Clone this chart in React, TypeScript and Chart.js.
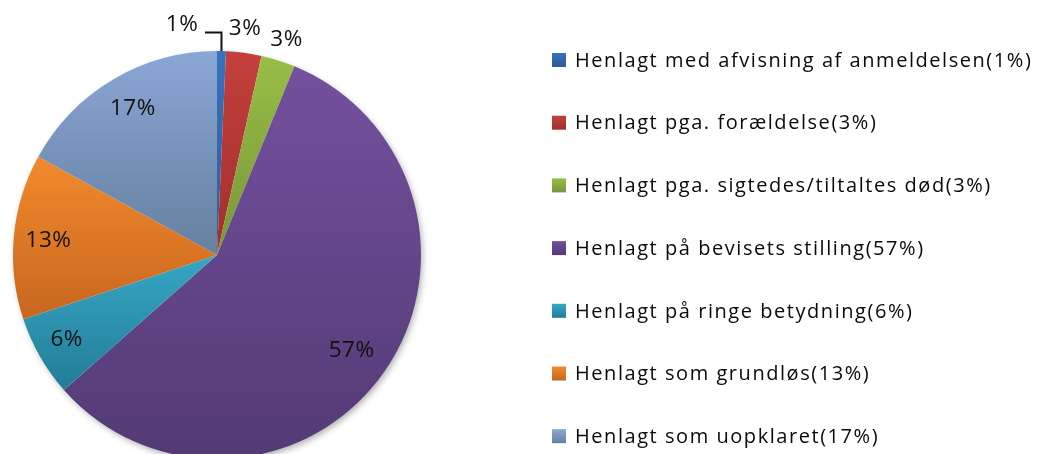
import React, { useEffect, useRef } from "react";
import { Chart, registerables } from "chart.js";

Chart.register(...registerables);

const categories = [
  "Henlagt med afvisning af anmeldelsen",
  "Henlagt pga. forældelse",
  "Henlagt pga. sigtedes/tiltaltes død",
  "Henlagt på bevisets stilling",
  "Henlagt på ringe betydning",
  "Henlagt som grundløs",
  "Henlagt som uopklaret",
];
const shares = [0.7, 2.8, 2.7, 57.3, 6.4, 13.1, 17.0];
const pctLabels = ["1%", "3%", "3%", "57%", "6%", "13%", "17%"];

const topColors = ["#3872bd", "#c4403d", "#98be45", "#74509e", "#36a7c5", "#f28a2c", "#8aa6d6"];
const bottomColors = ["#2a5c98", "#a12f2d", "#78963a", "#523b74", "#237c97", "#c7661f", "#66809e"];

const RADIUS = 204;
const FONT = "'Open Sans', 'Noto Sans', sans-serif";

function sliceGradient(ctx: any) {
  const chart = ctx.chart;
  const i = ctx.dataIndex;
  const area = chart.chartArea;
  if (!area || i === undefined) return bottomColors[i ?? 0];
  const cx = (area.left + area.right) / 2;
  const cy = (area.top + area.bottom) / 2;
  const data: number[] = chart.data.datasets[0].data;
  const total = data.reduce((a, b) => a + b, 0);
  let cum = 0;
  for (let k = 0; k < i; k++) cum += data[k];
  const start = -Math.PI / 2 + (2 * Math.PI * cum) / total;
  const end = start + (2 * Math.PI * data[i]) / total;
  const ys = [cy, cy + RADIUS * Math.sin(start), cy + RADIUS * Math.sin(end)];
  const within = (a: number) => a >= start && a <= end;
  if (within(Math.PI / 2)) ys.push(cy + RADIUS);
  if (within(-Math.PI / 2) || within((3 * Math.PI) / 2)) ys.push(cy - RADIUS);
  const y0 = Math.min(...ys);
  const y1 = Math.max(...ys);
  const g = chart.ctx.createLinearGradient(0, y0, 0, y1 + 0.01);
  g.addColorStop(0, topColors[i]);
  g.addColorStop(1, bottomColors[i]);
  return g;
}

const shadowPlugin = {
  id: "pieShadow",
  beforeDatasetsDraw(chart: any) {
    const meta = chart.getDatasetMeta(0);
    const arc = meta.data[0];
    if (!arc) return;
    const { x, y } = arc.getProps(["x", "y"], true);
    const c = chart.ctx;
    c.save();
    c.shadowColor = "rgba(0,0,0,0.35)";
    c.shadowBlur = 7;
    c.shadowOffsetX = 2;
    c.shadowOffsetY = 3;
    c.fillStyle = "#ffffff";
    c.beginPath();
    c.arc(x, y, RADIUS - 1, 0, Math.PI * 2);
    c.fill();
    c.restore();
  },
};

// small nudges of label placement (pixels), per slice
const labelNudge = [
  [-40, -2],
  [-2, 0],
  [1, 3],
  [0, 0],
  [-7, 2],
  [-4, 1],
  [0, -4],
];

const pieLabelPlugin = {
  id: "pieLabels",
  afterDatasetsDraw(chart: any) {
    const meta = chart.getDatasetMeta(0);
    const c = chart.ctx;
    c.save();
    c.font = `22.5px ${FONT}`;
    (c as any).letterSpacing = "0.5px";
    c.fillStyle = "#111";
    c.textAlign = "center";
    c.textBaseline = "middle";
    meta.data.forEach((arc: any, i: number) => {
      const { x, y, startAngle, endAngle, outerRadius } = arc.getProps(
        ["x", "y", "startAngle", "endAngle", "outerRadius"],
        true
      );
      const mid = (startAngle + endAngle) / 2;
      const outside = i < 3;
      const f = outside ? 1.12 : 0.81;
      const lx = x + Math.cos(mid) * outerRadius * f + labelNudge[i][0];
      const ly = y + Math.sin(mid) * outerRadius * f + labelNudge[i][1];
      if (i === 0) {
        const ax = x + Math.cos(mid) * outerRadius;
        const ay = y + Math.sin(mid) * outerRadius;
        c.strokeStyle = "#111";
        c.lineWidth = 2;
        c.beginPath();
        c.moveTo(ax, ay);
        c.lineTo(ax, ly + 8);
        c.lineTo(lx + 23, ly + 8);
        c.stroke();
      }
      c.fillText(pctLabels[i], lx, ly);
    });
    c.restore();
  },
};

const legendPlugin = {
  id: "sideLegend",
  afterDraw(chart: any) {
    const c = chart.ctx;
    const left = 552;
    const firstY = 60;
    const step = 62.7;
    const box = 14;
    c.save();
    c.font = `20px ${FONT}`;
    (c as any).letterSpacing = "1.55px";
    c.textBaseline = "middle";
    c.textAlign = "left";
    categories.forEach((name, i) => {
      const cy = firstY + step * i;
      const g = c.createLinearGradient(0, cy - box / 2, 0, cy + box / 2);
      g.addColorStop(0, topColors[i]);
      g.addColorStop(1, bottomColors[i]);
      c.fillStyle = g;
      c.fillRect(left, cy - box / 2, box, box);
      c.fillStyle = "#0a0a0a";
      c.fillText(`${name}(${pctLabels[i]})`, left + 23, cy + 1);
    });
    c.restore();
  },
};

export default function App() {
  const ref = useRef<HTMLCanvasElement>(null);
  useEffect(() => {
    if (!ref.current) return;
    const chart = new Chart(ref.current, {
      type: "pie",
      data: {
        labels: categories,
        datasets: [
          {
            data: shares,
            backgroundColor: sliceGradient as any,
            borderWidth: 0,
            radius: RADIUS,
            clip: false as any,
          } as any,
        ],
      },
      options: {
        responsive: false,
        animation: false,
        layout: { padding: { top: 56, left: 0, right: 603, bottom: 0 } },
        plugins: {
          legend: { display: false },
          tooltip: { enabled: false },
        },
      },
      plugins: [shadowPlugin, pieLabelPlugin, legendPlugin],
    });
    return () => chart.destroy();
  }, []);
  return (
    <div style={{ position: "fixed", left: 0, top: 0, width: 1037, height: 454, background: "#fff" }}>
      <canvas ref={ref} width={1037} height={454} style={{ display: "block" }} />
    </div>
  );
}
